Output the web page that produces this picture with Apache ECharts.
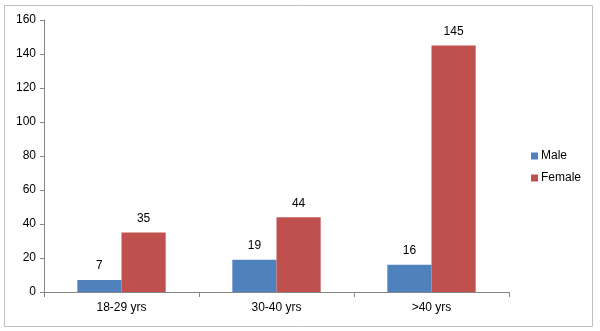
<!DOCTYPE html>
<html>
<head>
<meta charset="utf-8">
<script src="https://cdn.jsdelivr.net/npm/echarts@6/dist/echarts.min.js"></script>
<style>
  html, body { margin: 0; padding: 0; background: #fff; }
  #chart { width: 600px; height: 331px; }
</style>
</head>
<body>
<div id="chart"></div>
<script>
// Age groups and counts per sex
const categories = ['18-29 yrs', '30-40 yrs', '>40 yrs'];
const maleValues = [7, 19, 16];
const femaleValues = [35, 44, 145];
const yTicks = { min: 0, max: 160, interval: 20 };

const font = 'Liberation Sans, Arial, sans-serif';
const textColor = '#000';
const axisColor = '#868686';

const chart = echarts.init(document.getElementById('chart'), null, { renderer: 'canvas' });

chart.setOption({
  animation: false,
  backgroundColor: '#fff',
  graphic: [{
    type: 'rect',
    shape: { x: 4.5, y: 5.5, width: 588, height: 321 },
    style: { fill: 'none', stroke: '#bfbfbf', lineWidth: 1 },
    silent: true
  }],
  grid: { left: 44, right: 91, top: 20, bottom: 39, containLabel: false },
  legend: {
    orient: 'vertical',
    left: 526,
    top: 145,
    itemWidth: 7,
    itemHeight: 7,
    itemGap: 10,
    icon: 'rect',
    textStyle: { fontFamily: font, fontSize: 12, color: textColor, padding: [0, 0, 0, -2] },
    data: ['Male', 'Female']
  },
  xAxis: {
    type: 'category',
    data: categories,
    axisLine: { lineStyle: { color: axisColor } },
    axisTick: { show: true, length: 5, lineStyle: { color: axisColor } },
    axisLabel: { fontFamily: font, fontSize: 12, color: textColor, margin: 10 },
    splitLine: { show: false }
  },
  yAxis: {
    type: 'value',
    min: yTicks.min,
    max: yTicks.max,
    interval: yTicks.interval,
    axisLine: { show: true, lineStyle: { color: axisColor } },
    axisTick: { show: true, length: 4, lineStyle: { color: axisColor } },
    axisLabel: { fontFamily: font, fontSize: 12, color: textColor, margin: 8 },
    splitLine: { show: false }
  },
  series: [
    {
      name: 'Male',
      type: 'bar',
      data: maleValues,
      itemStyle: { color: '#4F81BD' },
      barGap: '0%',
      barCategoryGap: '43%',
      label: { show: true, position: 'top', distance: 8, fontFamily: font, fontSize: 12, color: textColor }
    },
    {
      name: 'Female',
      type: 'bar',
      data: femaleValues,
      itemStyle: { color: '#C0504D' },
      barGap: '0%',
      barCategoryGap: '43%',
      label: { show: true, position: 'top', distance: 8, fontFamily: font, fontSize: 12, color: textColor }
    }
  ]
});
</script>
</body>
</html>
